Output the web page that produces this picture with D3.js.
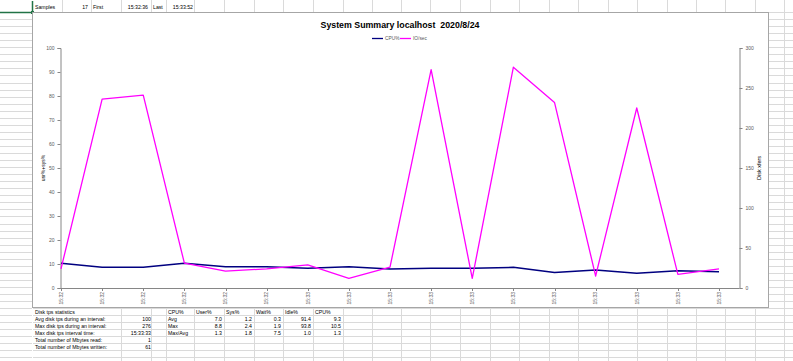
<!DOCTYPE html>
<html><head><meta charset="utf-8">
<script src="https://cdn.jsdelivr.net/npm/d3@7"></script>
<style>
html,body{margin:0;padding:0;background:#fff;}
svg{display:block;}
text{font-family:"Liberation Sans",Arial,sans-serif;}
</style></head>
<body><svg id="c" width="793" height="361"></svg>
<script>
// ---------- data ----------
const timeLabels = ["15:32","15:32","15:32","15:32","15:32","15:32","15:33","15:33","15:33","15:33","15:33","15:33","15:33","15:33","15:33","15:33","15:33"];
const cpuPct = [10.3,8.6,8.6,10.3,8.9,8.9,8.2,8.9,7.9,8.2,8.2,8.6,6.5,7.5,6.1,7.2,6.8];
const ioPerSec = [24,236,241,31,21,24,29,12,26,273,12,276,232,15,225,17,24];
const leftTicks = [0,10,20,30,40,50,60,70,80,90,100];
const rightTicks = [0,50,100,150,200,250,300];
const seriesNames = ["CPU%","IO/sec"];
const headerCells = ["Samples","17","First","15:32:36","Last","15:33:52"];
const diskLabels = ["Disk tps statistics","Avg disk tps during an interval:","Max disk tps during an interval:","Max disk tps interval time:","Total number of Mbytes read:","Total number of Mbytes written:"];
const diskValues = ["","100","276","15:33:33","1","61"];
const cpuHeader = ["CPU%","User%","Sys%","Wait%","Idle%","CPU%"];
const cpuRows = [["Avg","7.0","1.2","0.3","91.4","9.3"],["Max","8.8","2.4","1.9","93.8","10.5"],["Max/Avg","1.3","1.8","7.5","1.0","1.3"]];

const svg = d3.select("#c");
const W = 793, H = 361;

// ---------- spreadsheet grid ----------
const grid = svg.append("g").attr("stroke","#dadada").attr("stroke-width",1).attr("shape-rendering","crispEdges");
const colX = [62,91,121,151,166,194,224,254,283,313,343,372,401,430,460,490,519,549,578,608,637,667,696,725,755,784];
const rowH = 7.05, rowTop = 12;
const rows = d3.range(0,50).map(i=>rowTop+i*rowH).filter(y=>y<H);
rows.forEach(y=>{
  grid.append("line").attr("x1",0).attr("x2",32).attr("y1",Math.round(y)+0.5).attr("y2",Math.round(y)+0.5);
  grid.append("line").attr("x1",768).attr("x2",W).attr("y1",Math.round(y)+0.5).attr("y2",Math.round(y)+0.5);
});
colX.forEach(x=>grid.append("line").attr("x1",x+0.5).attr("x2",x+0.5).attr("y1",0).attr("y2",12));
grid.append("line").attr("x1",784.5).attr("x2",784.5).attr("y1",12).attr("y2",H);
const tableTop = 308;
rows.filter(y=>y>=tableTop-1).forEach(y=>grid.append("line").attr("x1",33).attr("x2",768).attr("y1",Math.round(y)+0.5).attr("y2",Math.round(y)+0.5));
colX.filter(x=>x>100 && x<768).forEach(x=>grid.append("line").attr("x1",x+0.5).attr("x2",x+0.5).attr("y1",tableTop).attr("y2",H));

// selected cell (green)
svg.append("path").attr("d","M0,12.5H32.5V1").attr("fill","none").attr("stroke","#217346").attr("stroke-width",1.5);
svg.append("rect").attr("x",31).attr("y",11).attr("width",3).attr("height",3).attr("fill","#217346");

// header row text
const hdr = svg.append("g").attr("font-size",5.2).attr("fill","#000");
const hdrPos = [[35,"start"],[88,"end"],[93,"start"],[148,"end"],[153,"start"],[193,"end"]];
headerCells.forEach((t,i)=>hdr.append("text").attr("x",hdrPos[i][0]).attr("y",8.5).attr("text-anchor",hdrPos[i][1]).text(t));

// ---------- chart frame ----------
svg.append("rect").attr("x",32.5).attr("y",12.5).attr("width",736).attr("height",295).attr("fill","#fff").attr("stroke","#a6a6a6").attr("stroke-width",1);

// ---------- scales ----------
const x = d3.scaleLinear().domain([0,timeLabels.length-1]).range([61,719]);
const yL = d3.scaleLinear().domain([0,100]).range([288,48]);
const yR = d3.scaleLinear().domain([0,300]).range([288,48]);
const plotRight = 739;

const axL = svg.append("g").attr("transform","translate(60.5,0)")
  .call(d3.axisLeft(yL).tickValues(leftTicks).tickSize(3).tickPadding(3).tickFormat(d3.format("d")));
const axR = svg.append("g").attr("transform",`translate(${plotRight+0.5},0)`)
  .call(d3.axisRight(yR).tickValues(rightTicks).tickSize(3).tickPadding(3).tickFormat(d3.format("d")));
[axL,axR].forEach(a=>{
  a.select(".domain").attr("stroke","#868686");
  a.selectAll(".tick line").attr("stroke","#868686");
  a.selectAll("text").attr("font-size",5).attr("fill","#595959").attr("font-family","Liberation Sans, Arial, sans-serif");
});
const xg = svg.append("g");
xg.append("line").attr("x1",60.5).attr("x2",plotRight+0.5).attr("y1",288.5).attr("y2",288.5).attr("stroke","#868686");
xg.selectAll("line.t").data(timeLabels).join("line").attr("class","t")
  .attr("x1",(d,i)=>Math.round(x(i))+0.5).attr("x2",(d,i)=>Math.round(x(i))+0.5).attr("y1",288).attr("y2",291).attr("stroke","#868686");
xg.selectAll("text").data(timeLabels).join("text")
  .attr("transform",(d,i)=>`translate(${x(i)+1.8},${292}) rotate(-90)`)
  .attr("text-anchor","end").attr("font-size",5).attr("fill","#595959").text(d=>d);

// axis titles
svg.append("text").attr("transform",`translate(45,${yL(50)}) rotate(-90)`).attr("text-anchor","middle").attr("font-size",5).attr("fill","#000").text("usr%+sys%");
svg.append("text").attr("transform",`translate(761,${yL(50)}) rotate(-90)`).attr("text-anchor","middle").attr("font-size",5.5).attr("fill","#000").text("Disk xfers");

// lines
const lineL = d3.line().x((d,i)=>x(i)).y(d=>yL(d));
const lineR = d3.line().x((d,i)=>x(i)).y(d=>yR(d));
svg.append("path").datum(cpuPct).attr("d",lineL).attr("fill","none").attr("stroke","#000080").attr("stroke-width",1.5).attr("stroke-linejoin","round");
svg.append("path").datum(ioPerSec).attr("d",lineR).attr("fill","none").attr("stroke","#FF00FF").attr("stroke-width",1.3).attr("stroke-linejoin","round");

// title
const title = svg.append("text").attr("x",400).attr("y",28).attr("text-anchor","middle").attr("font-weight","bold").attr("font-size",10)
  .attr("fill","#000").style("white-space","pre").text("System Summary localhost  2020/8/24");
const tw = title.node().getComputedTextLength();
title.attr("font-size",10*159/tw);

// legend
const legColors = ["#000080","#FF00FF"];
const legX = [372,400];
seriesNames.forEach((n,i)=>{
  svg.append("line").attr("x1",legX[i]).attr("x2",legX[i]+11).attr("y1",38.5).attr("y2",38.5).attr("stroke",legColors[i]).attr("stroke-width",1.3);
  svg.append("text").attr("x",legX[i]+13).attr("y",40.3).attr("font-size",4.8).attr("fill","#595959").text(n);
});

// ---------- bottom table ----------
const tb = svg.append("g").attr("font-size",5.2).attr("fill","#000");
const rowY = i => 313.5 + i*7.05;
diskLabels.forEach((t,i)=>tb.append("text").attr("x",35).attr("y",rowY(i)).text(t));
diskValues.forEach((t,i)=>tb.append("text").attr("x",151).attr("y",rowY(i)).attr("text-anchor","end").text(t));
const cpuColStart = [168,196,226,256,285,315];
const cpuColEnd = [192,222,252,281,311,341];
cpuHeader.forEach((t,j)=>tb.append("text").attr("x",cpuColStart[j]).attr("y",rowY(0)).text(t));
cpuRows.forEach((r,i)=>r.forEach((t,j)=>{
  if(j===0) tb.append("text").attr("x",cpuColStart[0]).attr("y",rowY(i+1)).text(t);
  else tb.append("text").attr("x",cpuColEnd[j]).attr("y",rowY(i+1)).attr("text-anchor","end").text(t);
}));
</script></body></html>
